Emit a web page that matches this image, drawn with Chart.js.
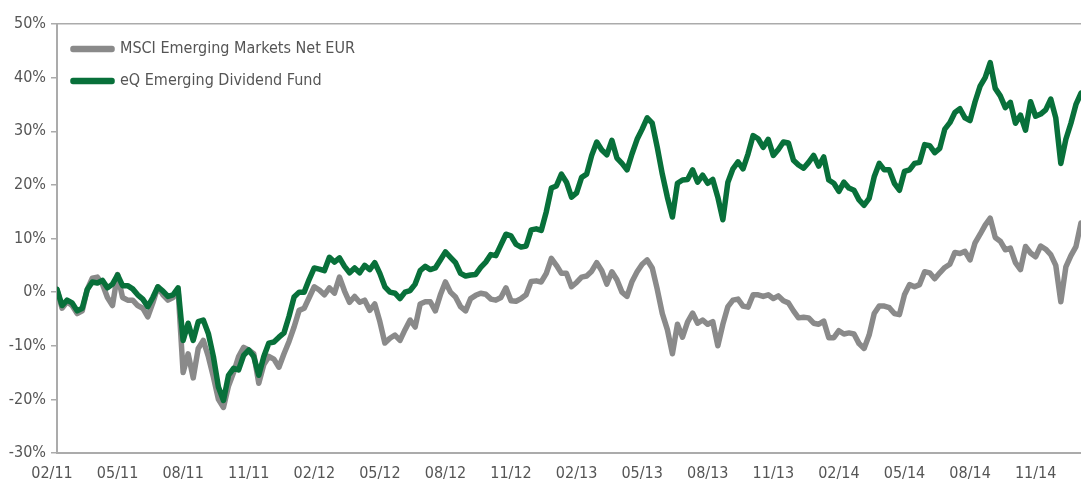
<!DOCTYPE html>
<html>
<head>
<meta charset="utf-8">
<script src="https://cdn.jsdelivr.net/npm/chart.js@4.4.1/dist/chart.umd.min.js"></script>
<style>
  body { margin: 0; background: #fff; }
</style>
</head>
<body>
<canvas id="canvas" width="1081" height="483"></canvas>
<script>
// chart data (weekly, % change since start)
const tickLabels = ['02/11', '05/11', '08/11', '11/11', '02/12', '05/12', '08/12', '11/12',
  '02/13', '05/13', '08/13', '11/13', '02/14', '05/14', '08/14', '11/14'];
const seriesNames = ['MSCI Emerging Markets Net EUR', 'eQ Emerging Dividend Fund'];

const msci = [
  0.5, -3, -1.8, -2.5, -4, -3.5, 0.5, 2.6, 2.8, 1.5,
  -1, -2.5, 3.3, -1, -1.5, -1.5, -2.5, -3, -4.6, -2,
  1, -0.5, -1.5, -1, 0.5, -15, -11.5, -16, -10.5, -9,
  -12, -15.8, -20, -21.5, -17.5, -15, -12, -10.3, -10.8, -11.5,
  -17, -13.5, -12, -12.5, -14, -11.5, -9.2, -6.5, -3.4, -3,
  -1, 1, 0.4, -0.5, 0.8, -0.2, 2.8, 0.2, -1.9, -0.8,
  -1.9, -1.5, -3.4, -2.2, -5.5, -9.5, -8.6, -8, -9, -7,
  -5.2, -6.5, -2.2, -1.8, -1.8, -3.5, -0.5, 1.9, 0, -0.9,
  -2.7, -3.5, -1.2, -0.6, -0.2, -0.4, -1.3, -1.5, -1, 0.8,
  -1.6, -1.7, -1.2, -0.5, 2, 2.1, 1.9, 3.5, 6.3, 5,
  3.5, 3.5, 1, 1.8, 2.8, 3, 3.9, 5.5, 4, 1.5,
  3.8, 2.3, 0, -0.8, 2, 3.8, 5.2, 6, 4.5, 0.5,
  -4, -7, -11.5, -6, -8.4, -5.6, -3.9, -5.8, -5.2, -6,
  -5.5, -10, -6, -2.7, -1.5, -1.3, -2.6, -2.8, -0.5, -0.5,
  -0.8, -0.5, -1.2, -0.7, -1.6, -2, -3.5, -4.8, -4.7, -4.8,
  -5.8, -6, -5.4, -8.5, -8.5, -7.2, -7.8, -7.6, -7.8, -9.6,
  -10.5, -8, -4, -2.6, -2.6, -2.9, -4, -4.2, -0.5, 1.4,
  1, 1.4, 3.8, 3.6, 2.5, 3.6, 4.6, 5.2, 7.4, 7.2,
  7.6, 6, 9.2, 10.8, 12.5, 13.8, 10.2, 9.5, 7.9, 8.2,
  5.5, 4.2, 8.5, 7.3, 6.6, 8.6, 8, 7, 5, -1.8,
  4.7, 6.8, 8.5, 12.9
];

const fund = [
  0.5, -2.5, -1.5, -2, -3.5, -3, 0.5, 1.9, 1.7, 2.2,
  0.8, 1.5, 3.2, 1.2, 1.2, 0.6, -0.5, -1.3, -2.7, -1,
  1, 0.2, -0.8, -0.5, 0.8, -9, -5.8, -9, -5.5, -5.2,
  -7.7, -12, -17.7, -20.2, -15.5, -14.2, -14.5, -11.8, -10.8, -12,
  -15.5, -12, -9.5, -9.3, -8.4, -7.6, -4.5, -0.9, 0, 0,
  2.4, 4.5, 4.3, 4, 6.5, 5.6, 6.4, 4.8, 3.6, 4.5,
  3.6, 5, 4.2, 5.5, 3.5, 1, 0, -0.2, -1.2, 0,
  0.3, 1.5, 4, 4.8, 4.2, 4.5, 6, 7.5, 6.5, 5.5,
  3.5, 3, 3.2, 3.3, 4.6, 5.6, 7, 6.8, 8.8, 10.8,
  10.5, 8.9, 8.4, 8.6, 11.6, 11.8, 11.5, 15, 19.4, 19.8,
  22, 20.5, 17.7, 18.5, 21.4, 22, 25.5, 28, 26.5, 25.6,
  28.3, 25, 24, 22.8, 25.8, 28.5, 30.4, 32.5, 31.5, 27,
  22, 17.7, 14, 20.3, 20.9, 21, 22.8, 20.5, 21.8, 20.3,
  21, 17.7, 13.5, 20.5, 23, 24.3, 23, 25.8, 29.2, 28.6,
  27, 28.5, 25.5, 26.6, 28, 27.8, 24.6, 23.7, 23.1, 24.2,
  25.5, 23.5, 25.2, 20.9, 20.3, 18.8, 20.5, 19.4, 19, 17.2,
  16.2, 17.5, 21.5, 24, 22.8, 22.8, 20.3, 19, 22.5, 22.8,
  24, 24.2, 27.5, 27.3, 26, 26.8, 30.4, 31.6, 33.5, 34.2,
  32.5, 32, 35.5, 38.4, 40, 42.8, 38, 36.6, 34.4, 35.4,
  31.5, 33, 30.2, 35.5, 32.8, 33.2, 34, 36, 32.5, 24,
  28.5, 31.5, 35, 37.1
];

const weeksPerTick = 13;
const FONT = "'Liberation Sans Narrow', 'Arial Narrow', 'DejaVu Sans Condensed', sans-serif";
const axisColor = '#ababab';
const textColor = '#555555';
const grey = '#8a8a8a';
const green = '#08703a';

function toPoints(arr) {
  return arr.map(function (v, i) { return { x: i, y: v }; });
}

const data = {
  datasets: [
    {
      label: seriesNames[0],
      data: toPoints(msci),
      borderColor: grey,
      backgroundColor: grey,
      borderWidth: 5.5,
      order: 1,
    },
    {
      label: seriesNames[1],
      data: toPoints(fund),
      borderColor: green,
      backgroundColor: green,
      borderWidth: 5.5,
      order: 0,
    },
  ],
};

const config = {
  type: 'line',
  data,
  options: {
    responsive: false,
    animation: false,
    layout: { padding: { top: 24, left: 0, right: 0, bottom: 0 } },
    elements: {
      point: { radius: 0 },
      line: { tension: 0, borderJoinStyle: 'round', borderCapStyle: 'round' },
    },
    plugins: {
      tooltip: { enabled: false },
      legend: {
        position: 'chartArea',
        align: 'start',
        // empty title only pushes the items down inside the plot
        title: { display: true, text: '', padding: 0, font: { size: 25, lineHeight: 1 } },
        labels: {
          boxWidth: 39,
          boxHeight: 1,
          padding: 16,
          color: textColor,
          font: { family: FONT, size: 16 },
          sort: function (a, b) { return a.datasetIndex - b.datasetIndex; },
        },
      },
    },
    scales: {
      x: {
        type: 'linear',
        min: 0,
        max: 203,
        afterFit: function (s) { s.height = 30; },
        grid: { display: false, drawTicks: false },
        border: { display: true, color: axisColor, width: 2 },
        ticks: {
          stepSize: weeksPerTick,
          includeBounds: false,
          autoSkip: false,
          maxRotation: 0,
          labelOffset: -5,
          padding: 11,
          color: textColor,
          font: { family: FONT, size: 16 },
          callback: function (v) {
            return tickLabels[v / weeksPerTick];
          },
        },
      },
      y: {
        min: -30,
        max: 50,
        afterFit: function (s) { s.width = 57; },
        grid: {
          color: function (ctx) { return ctx.tick && ctx.tick.value === 50 ? axisColor : 'rgba(0,0,0,0)'; },
          lineWidth: 1.5,
          tickColor: axisColor,
          tickLength: 6,
        },
        border: { display: true, color: axisColor, width: 2 },
        ticks: {
          stepSize: 10,
          padding: 5,
          color: textColor,
          font: { family: FONT, size: 16 },
          callback: function (v) { return v + '%'; },
        },
      },
    },
  },
};

let myChart = new Chart(document.getElementById('canvas'), config);
</script>
</body>
</html>
